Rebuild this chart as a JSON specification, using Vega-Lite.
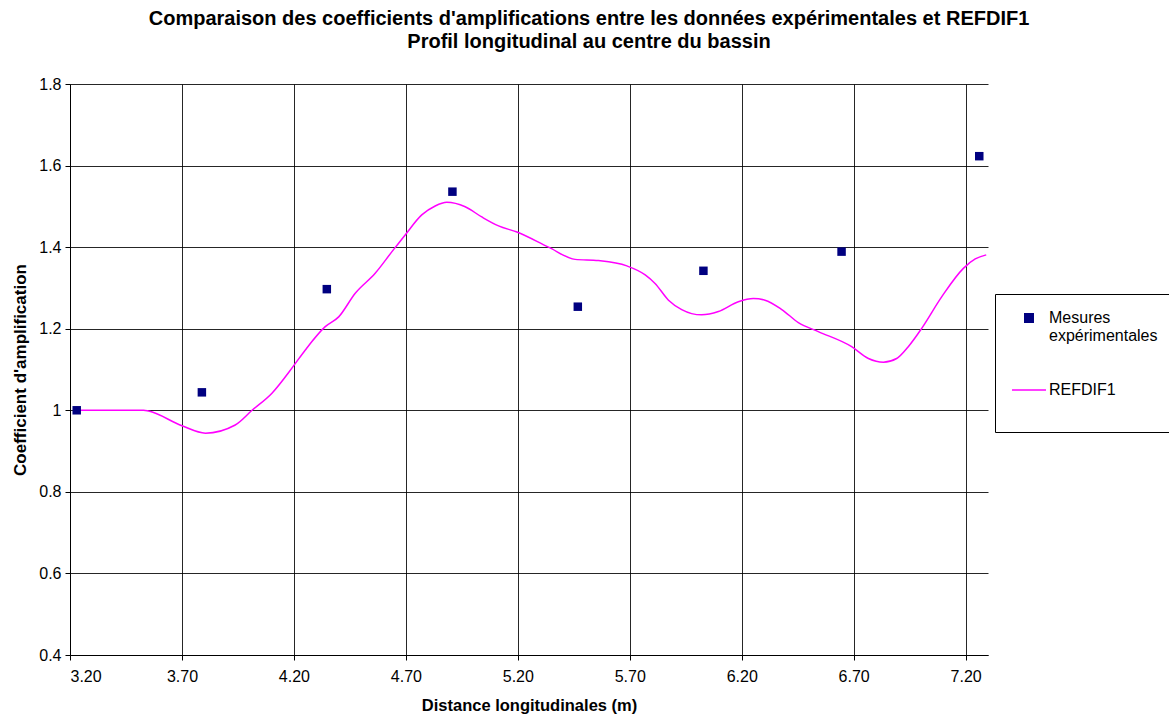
{
  "$schema": "https://vega.github.io/schema/vega-lite/v6.json",
  "width": 918,
  "height": 571,
  "autosize": "none",
  "padding": {"left": 70, "top": 84, "right": 181, "bottom": 60},
  "background": "white",
  "config": {
    "font": "Liberation Sans",
    "view": {"stroke": null},
    "axis": {
      "labelFont": "Liberation Sans",
      "labelFontSize": 16,
      "labelColor": "#000",
      "titleFont": "Liberation Sans",
      "titleFontWeight": "bold",
      "titleColor": "#000",
      "domainColor": "#000",
      "domainWidth": 1,
      "tickColor": "#000",
      "tickSize": 5,
      "gridColor": "#000",
      "gridOpacity": 0.85,
      "gridWidth": 1
    }
  },
  "title": {
    "text": ["Comparaison des coefficients d'amplifications entre les données expérimentales et REFDIF1", "Profil longitudinal au centre du bassin"],
    "font": "Liberation Sans",
    "fontSize": 20,
    "fontWeight": "bold",
    "color": "#000",
    "lineHeight": 23,
    "anchor": "middle",
    "frame": "group",
    "dx": 60,
    "offset": 24
  },
  "datasets": {
    "mesures": [
      {"x": 3.23, "y": 1.0, "series": "Mesures expérimentales"},
      {"x": 3.789, "y": 1.044, "series": "Mesures expérimentales"},
      {"x": 4.347, "y": 1.297, "series": "Mesures expérimentales"},
      {"x": 4.908, "y": 1.536, "series": "Mesures expérimentales"},
      {"x": 5.468, "y": 1.254, "series": "Mesures expérimentales"},
      {"x": 6.029, "y": 1.342, "series": "Mesures expérimentales"},
      {"x": 6.646, "y": 1.389, "series": "Mesures expérimentales"},
      {"x": 7.261, "y": 1.623, "series": "Mesures expérimentales"}
    ],
    "refdif": [
      {"x": 3.23, "y": 1.0, "series": "REFDIF1"},
      {"x": 3.529, "y": 1.0, "series": "REFDIF1"},
      {"x": 3.551, "y": 0.998, "series": "REFDIF1"},
      {"x": 3.70, "y": 0.962, "series": "REFDIF1"},
      {"x": 3.805, "y": 0.944, "series": "REFDIF1"},
      {"x": 3.938, "y": 0.964, "series": "REFDIF1"},
      {"x": 4.013, "y": 1.0, "series": "REFDIF1"},
      {"x": 4.102, "y": 1.042, "series": "REFDIF1"},
      {"x": 4.196, "y": 1.107, "series": "REFDIF1"},
      {"x": 4.251, "y": 1.148, "series": "REFDIF1"},
      {"x": 4.340, "y": 1.205, "series": "REFDIF1"},
      {"x": 4.40, "y": 1.229, "series": "REFDIF1"},
      {"x": 4.474, "y": 1.287, "series": "REFDIF1"},
      {"x": 4.563, "y": 1.336, "series": "REFDIF1"},
      {"x": 4.638, "y": 1.389, "series": "REFDIF1"},
      {"x": 4.697, "y": 1.430, "series": "REFDIF1"},
      {"x": 4.771, "y": 1.479, "series": "REFDIF1"},
      {"x": 4.831, "y": 1.501, "series": "REFDIF1"},
      {"x": 4.883, "y": 1.510, "series": "REFDIF1"},
      {"x": 4.965, "y": 1.499, "series": "REFDIF1"},
      {"x": 5.039, "y": 1.474, "series": "REFDIF1"},
      {"x": 5.114, "y": 1.452, "series": "REFDIF1"},
      {"x": 5.196, "y": 1.437, "series": "REFDIF1"},
      {"x": 5.337, "y": 1.400, "series": "REFDIF1"},
      {"x": 5.456, "y": 1.370, "series": "REFDIF1"},
      {"x": 5.560, "y": 1.367, "series": "REFDIF1"},
      {"x": 5.687, "y": 1.354, "series": "REFDIF1"},
      {"x": 5.769, "y": 1.332, "series": "REFDIF1"},
      {"x": 5.813, "y": 1.311, "series": "REFDIF1"},
      {"x": 5.873, "y": 1.270, "series": "REFDIF1"},
      {"x": 5.932, "y": 1.247, "series": "REFDIF1"},
      {"x": 6.021, "y": 1.234, "series": "REFDIF1"},
      {"x": 6.096, "y": 1.242, "series": "REFDIF1"},
      {"x": 6.185, "y": 1.266, "series": "REFDIF1"},
      {"x": 6.252, "y": 1.274, "series": "REFDIF1"},
      {"x": 6.304, "y": 1.270, "series": "REFDIF1"},
      {"x": 6.379, "y": 1.247, "series": "REFDIF1"},
      {"x": 6.453, "y": 1.215, "series": "REFDIF1"},
      {"x": 6.542, "y": 1.193, "series": "REFDIF1"},
      {"x": 6.691, "y": 1.156, "series": "REFDIF1"},
      {"x": 6.766, "y": 1.127, "series": "REFDIF1"},
      {"x": 6.833, "y": 1.118, "series": "REFDIF1"},
      {"x": 6.892, "y": 1.127, "series": "REFDIF1"},
      {"x": 6.944, "y": 1.156, "series": "REFDIF1"},
      {"x": 7.004, "y": 1.201, "series": "REFDIF1"},
      {"x": 7.093, "y": 1.278, "series": "REFDIF1"},
      {"x": 7.190, "y": 1.348, "series": "REFDIF1"},
      {"x": 7.243, "y": 1.371, "series": "REFDIF1"},
      {"x": 7.292, "y": 1.381, "series": "REFDIF1"}
    ]
  },
  "encoding": {
    "x": {
      "field": "x",
      "type": "quantitative",
      "scale": {"domain": [3.2, 7.3], "nice": false, "zero": false},
      "axis": {
        "title": "Distance longitudinales (m)",
        "titleFontSize": 16.5,
        "values": [3.2, 3.7, 4.2, 4.7, 5.2, 5.7, 6.2, 6.7, 7.2],
        "format": ".2f",
        "labelPadding": 8,
        "titlePadding": 13
      }
    },
    "y": {
      "field": "y",
      "type": "quantitative",
      "scale": {"domain": [0.4, 1.8], "nice": false, "zero": false},
      "axis": {
        "title": "Coefficient d'amplification",
        "titleFontSize": 17,
        "values": [0.4, 0.6, 0.8, 1.0, 1.2, 1.4, 1.6, 1.8],
        "labelExpr": "datum.value == 1 ? '1' : format(datum.value, '.1f')",
        "labelPadding": 4,
        "titleBaseline": "middle",
        "titleX": -50
      }
    },
    "color": {
      "field": "series",
      "type": "nominal",
      "scale": {"domain": ["Mesures expérimentales", "REFDIF1"], "range": ["#000080", "#FF00FF"]},
      "legend": {
        "orient": "none",
        "legendX": 925,
        "legendY": 210,
        "title": null,
        "fillColor": "white",
        "strokeColor": "#000",
        "padding": 16,
        "rowPadding": 38,
        "symbolOffset": 10,
        "labelOffset": 12,
        "labelFont": "Liberation Sans",
        "labelFontSize": 16,
        "labelColor": "#000",
        "labelLimit": 220,
        "labelExpr": "datum.label == 'REFDIF1' ? ['REFDIF1', ' '] : ['Mesures', 'expérimentales']",
        "symbolSize": 1156,
        "symbolStrokeWidth": 1.5,
        "encode": {
          "symbols": {
            "update": {
              "stroke": {"scale": "color", "field": "value"},
              "size": {"signal": "datum.value == 'REFDIF1' ? 1156 : 72"}
            }
          }
        }
      }
    }
  },
  "layer": [
    {
      "data": {"name": "refdif"},
      "mark": {"type": "line", "interpolate": "monotone", "strokeWidth": 1.5}
    },
    {
      "data": {"name": "mesures"},
      "mark": {"type": "point", "shape": "square", "filled": true, "size": 72, "opacity": 1},
      "encoding": {
        "shape": {
          "field": "series",
          "type": "nominal",
          "scale": {"domain": ["Mesures expérimentales", "REFDIF1"], "range": ["square", "stroke"]},
          "legend": null
        }
      }
    }
  ]
}
